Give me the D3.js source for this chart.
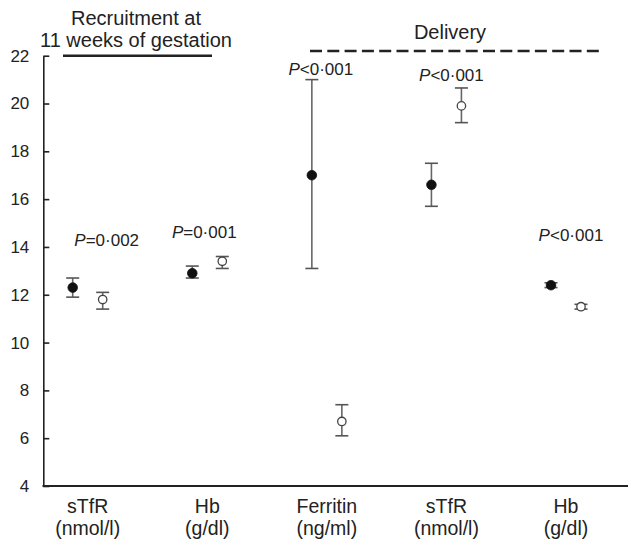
<!DOCTYPE html>
<html><head><meta charset="utf-8">
<script src="https://cdn.jsdelivr.net/npm/d3@7"></script>
<style>
html,body{margin:0;padding:0;background:#fff;}
text{font-family:"Liberation Sans",Arial,Helvetica,sans-serif;fill:#222;}
</style></head>
<body>
<svg id="chart" width="638" height="549"></svg>
<script>
// ---- data ----
const categories = ["sTfR|(nmol/l)", "Hb|(g/dl)", "Ferritin|(ng/ml)", "sTfR|(nmol/l)", "Hb|(g/dl)"];
const filledMean = [12.3, 12.9, 17.0, 16.6, 12.4];
const filledLow  = [11.9, 12.7, 13.1, 15.7, 12.3];
const filledHigh = [12.7, 13.2, 21.0, 17.5, 12.5];
const openMean   = [11.8, 13.4, 6.7, 19.9, 11.5];
const openLow    = [11.4, 13.1, 6.1, 19.2, 11.4];
const openHigh   = [12.1, 13.6, 7.4, 20.65, 11.6];
const pLabels    = ["=0·002", "=0·001", "<0·001", "<0·001", "<0·001"];
const pLabelValue = [14.28, 14.63, 21.46, 21.18, 14.49];
const yTicks = [4, 6, 8, 10, 12, 14, 16, 18, 20, 22];
const headerRecruitment = ["Recruitment at", "11 weeks of gestation"];
const headerDelivery = ["Delivery"];

// ---- layout ----
const svg = d3.select("#chart");
const y = d3.scaleLinear().domain([4, 22]).range([486, 55.7]);
const xc = d3.scalePoint().domain(d3.range(categories.length)).range([87.7, 566]);
const off = 15;
const capW = 6.5;
const pDx = [19, -3, -6, 5, 5];

// y axis
const yAxis = d3.axisLeft(y).tickValues(yTicks).tickSizeInner(-6).tickSizeOuter(0).tickPadding(14);
const ga = svg.append("g").attr("transform", "translate(43.3,0)").call(yAxis);
ga.select(".domain").attr("stroke", "#222").attr("stroke-width", 1.6);
ga.selectAll(".tick line").attr("stroke", "#222").attr("stroke-width", 1.6);
ga.selectAll(".tick text").attr("font-size", 17).attr("fill", "#222")
  .style("font-family", '"Liberation Sans",Arial,sans-serif');

// x axis line
svg.append("line").attr("x1", 42.5).attr("x2", 628).attr("y1", y(4)).attr("y2", y(4))
  .attr("stroke", "#222").attr("stroke-width", 1.8);

// x labels
categories.forEach((c, i) => {
  const parts = c.split("|");
  const t = svg.append("text").attr("x", xc(i)).attr("text-anchor", "middle").attr("font-size", 19.5);
  t.append("tspan").attr("x", xc(i)).attr("y", 513).text(parts[0]);
  t.append("tspan").attr("x", xc(i)).attr("y", 535).text(parts[1]);
});

// error bars + points
function drawSeries(mean, lo, hi, dx, filled) {
  const g = svg.append("g");
  mean.forEach((m, i) => {
    const cx = xc(i) + dx;
    g.append("line").attr("x1", cx).attr("x2", cx).attr("y1", y(lo[i])).attr("y2", y(hi[i]))
      .attr("stroke", "#666").attr("stroke-width", 1.6);
    [lo[i], hi[i]].forEach(v => {
      g.append("line").attr("x1", cx - capW).attr("x2", cx + capW).attr("y1", y(v)).attr("y2", y(v))
        .attr("stroke", "#555").attr("stroke-width", 1.6);
    });
    g.append("circle").attr("cx", cx).attr("cy", y(m)).attr("r", filled ? 4.8 : 4.2)
      .attr("fill", filled ? "#111" : "#fff").attr("stroke", filled ? "#111" : "#444")
      .attr("stroke-width", filled ? 0.8 : 1.3);
  });
}
drawSeries(filledMean, filledLow, filledHigh, -off, true);
drawSeries(openMean, openLow, openHigh, off, false);

// P labels
pLabels.forEach((p, i) => {
  const t = svg.append("text").attr("x", xc(i) + pDx[i]).attr("y", y(pLabelValue[i]) + 6)
    .attr("text-anchor", "middle").attr("font-size", 17);
  t.append("tspan").attr("font-style", "italic").text("P");
  t.append("tspan").text(p);
});

// headers
const gh = svg.append("g");
headerRecruitment.forEach((s, i) => {
  gh.append("text").attr("x", 136).attr("y", 25 + i * 22).attr("text-anchor", "middle")
    .attr("font-size", 20).text(s);
});
gh.append("line").attr("x1", 63).attr("x2", 212).attr("y1", y(22)).attr("y2", y(22))
  .attr("stroke", "#222").attr("stroke-width", 2.6);
headerDelivery.forEach(s => {
  gh.append("text").attr("x", 450).attr("y", 39).attr("text-anchor", "middle")
    .attr("font-size", 20).text(s);
});
gh.append("line").attr("x1", 310).attr("x2", 602).attr("y1", 51).attr("y2", 51)
  .attr("stroke", "#222").attr("stroke-width", 2.6).attr("stroke-dasharray", "12,5.3");
</script>
</body></html>
